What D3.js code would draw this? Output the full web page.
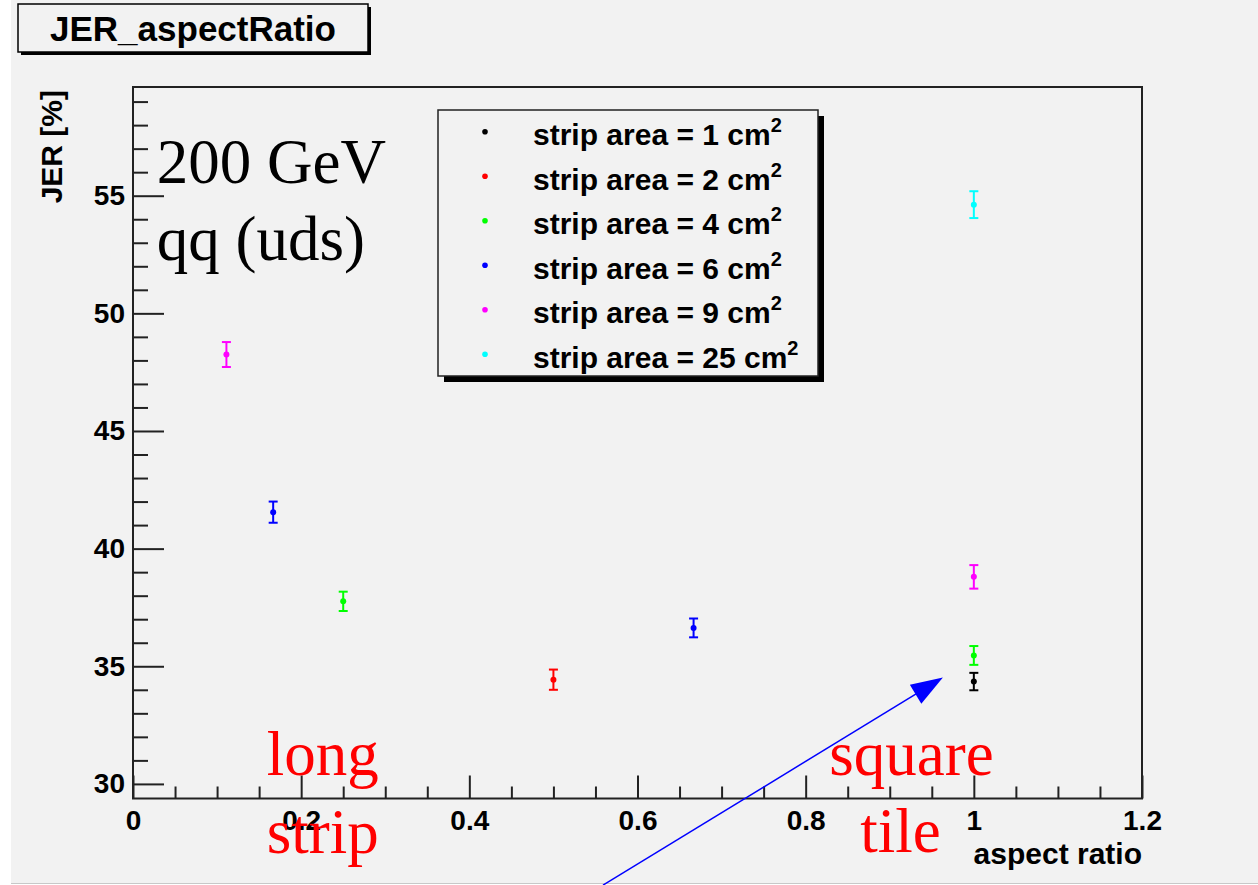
<!DOCTYPE html>
<html>
<head>
<meta charset="utf-8">
<script src="https://cdn.jsdelivr.net/npm/d3@7"></script>
<style>
  body { margin: 0; background: #fff; }
  svg text { font-family: "Liberation Sans", Arial, sans-serif; font-weight: bold; }
  .note { font-family: "Liberation Serif", "Times New Roman", serif; font-weight: normal; }
</style>
</head>
<body>
<svg id="chart" width="1258" height="885"></svg>
<script>
// strip area (cm^2) for each graph, and its points
var areas = [1, 2, 4, 6, 9, 25];
var aspect = [[1], [0.5], [0.25, 1], [0.1667, 0.6667], [0.1111, 1], [1]];
var jer = [[34.35], [34.43], [37.76, 35.46], [41.55, 36.63], [48.25, 38.8], [54.62]];
var jerErr = [[0.37], [0.43], [0.41, 0.40], [0.45, 0.40], [0.53, 0.50], [0.57]];
var colors = ["#000000", "#ff0000", "#00ff00", "#0000ff", "#ff00ff", "#00ffff"];

var xMajor = [0, 0.2, 0.4, 0.6, 0.8, 1, 1.2];
var yMajor = [30, 35, 40, 45, 50, 55];

// free text drawn on the pad (user coordinates)
var notes = [
    {text: "200 GeV",  x: 0.0282, y: 55.54, color: "#000"},
    {text: "qq (uds)", x: 0.0282, y: 52.28, color: "#000"},
    {text: "long",     x: 0.159,  y: 30.38, color: "#ff0000"},
    {text: "strip",    x: 0.159,  y: 27.07, color: "#ff0000"},
    {text: "square",   x: 0.828,  y: 30.38, color: "#ff0000"},
    {text: "tile",     x: 0.865,  y: 27.11, color: "#ff0000"}
];
var arrow = {x1: 0.559, y1: 25.70, x2: 0.9632, y2: 34.52};

var svg = d3.select("#chart");
var W = +svg.attr("width"), H = +svg.attr("height");
var margin = {top: 87, right: 116, bottom: 86.5, left: 133};
var width = W - margin.left - margin.right,
    height = H - margin.top - margin.bottom;

// canvas
svg.append("rect").attr("x", 11).attr("y", 0).attr("width", W - 11).attr("height", 883)
    .attr("fill", "#f2f2f2");
svg.append("line").attr("x1", 11).attr("x2", W).attr("y1", 883.5).attr("y2", 883.5)
    .attr("stroke", "#c8c8c8");

// title box with shadow
svg.append("rect").attr("x", 21).attr("y", 7).attr("width", 350).attr("height", 48).attr("fill", "#000");
svg.append("rect").attr("x", 18).attr("y", 4).attr("width", 350).attr("height", 48)
    .attr("fill", "#f2f2f2").attr("stroke", "#000").attr("stroke-width", 1.5);
svg.append("text").attr("x", 193).attr("y", 41).attr("text-anchor", "middle")
    .style("font-size", "35px").text("JER_aspectRatio");

var g = svg.append("g").attr("transform", "translate(" + margin.left + "," + margin.top + ")");

var x = d3.scaleLinear().domain([0, 1.2]).range([0, width]);
var y = d3.scaleLinear().domain([29.38, 59.62]).range([height, 0]);

// minor ticks
var xMinor = d3.range(0, 1.2001, 0.05).filter(function(v){ return Math.abs(v*5 - Math.round(v*5)) > 1e-6; });
var yMinor = d3.range(30, 59.6, 1).filter(function(v){ return v % 5 != 0; });

g.append("g").attr("class", "axis")
    .attr("transform", "translate(0," + height + ")")
    .call(d3.axisBottom(x).tickValues(xMinor).tickSize(-12).tickSizeOuter(0).tickFormat(""));
g.append("g").attr("class", "axis")
    .attr("transform", "translate(0," + height + ")")
    .call(d3.axisBottom(x).tickValues(xMajor).tickSize(-23).tickSizeOuter(0).tickPadding(12)
        .tickFormat(d3.format("~g")));
g.append("g").attr("class", "axis")
    .call(d3.axisLeft(y).tickValues(yMinor).tickSize(-15).tickSizeOuter(0).tickFormat(""));
g.append("g").attr("class", "axis")
    .call(d3.axisLeft(y).tickValues(yMajor).tickSize(-31).tickSizeOuter(0).tickPadding(8));

g.selectAll(".axis path").remove();
g.selectAll(".axis line").attr("stroke", "#222").attr("stroke-width", 2);
g.selectAll(".axis text").attr("fill", "#000").style("font-size", "28px")
    .style("font-family", "Liberation Sans, Arial, sans-serif").style("font-weight", "bold");

// frame
g.append("rect").attr("width", width).attr("height", height)
    .attr("fill", "none").attr("stroke", "#222").attr("stroke-width", 2);

// axis titles
g.append("text").attr("x", width).attr("y", height + 65.5).attr("text-anchor", "end")
    .style("font-size", "30px").text("aspect ratio");
g.append("text").attr("transform", "translate(" + (62 - margin.left) + "," + (90 - margin.top) + ") rotate(-90)")
    .attr("text-anchor", "end").style("font-size", "30px").text("JER [%]");

// graphs
areas.forEach(function(a, i){
    var pts = aspect[i].map(function(v, j){ return {x: v, y: jer[i][j], e: jerErr[i][j]}; });
    var s = g.append("g").attr("stroke", colors[i]).attr("fill", colors[i]).attr("stroke-width", 2);
    pts.forEach(function(p){
        var px = x(p.x);
        s.append("line").attr("x1", px).attr("x2", px).attr("y1", y(p.y - p.e)).attr("y2", y(p.y + p.e));
        s.append("line").attr("x1", px - 4.5).attr("x2", px + 4.5).attr("y1", y(p.y - p.e)).attr("y2", y(p.y - p.e));
        s.append("line").attr("x1", px - 4.5).attr("x2", px + 4.5).attr("y1", y(p.y + p.e)).attr("y2", y(p.y + p.e));
        s.append("circle").attr("cx", px).attr("cy", y(p.y)).attr("r", 3).attr("stroke", "none");
    });
});

// legend
var lx = 438, ly = 110, lw = 380, lh = 266;
svg.append("rect").attr("x", lx + 6).attr("y", ly + 6).attr("width", lw).attr("height", lh).attr("fill", "#000");
svg.append("rect").attr("x", lx).attr("y", ly).attr("width", lw).attr("height", lh)
    .attr("fill", "#f2f2f2").attr("stroke", "#222").attr("stroke-width", 1.5);
areas.forEach(function(a, i){
    var ry = 131.7 + i * 44.5;
    svg.append("circle").attr("cx", 485).attr("cy", ry).attr("r", 2.8).attr("fill", colors[i]);
    var t = svg.append("text").attr("x", 533).attr("y", ry + 13.5).style("font-size", "30px");
    t.append("tspan").text("strip area = " + a + " cm");
    t.append("tspan").attr("dy", -13).style("font-size", "20px").text("2");
});

// annotations
notes.forEach(function(n){
    g.append("text").attr("class", "note").attr("x", x(n.x)).attr("y", y(n.y))
        .attr("fill", n.color).style("font-size", "63px").text(n.text);
});

// arrow
var ax1 = x(arrow.x1), ay1 = y(arrow.y1), ax2 = x(arrow.x2), ay2 = y(arrow.y2);
var ang = Math.atan2(ay2 - ay1, ax2 - ax1);
var hl = 32, hw = 11;
g.append("line").attr("x1", ax1).attr("y1", ay1).attr("x2", ax2 - hl * Math.cos(ang) * 0.8).attr("y2", ay2 - hl * Math.sin(ang) * 0.8)
    .attr("stroke", "#0000ff").attr("stroke-width", 1.5);
var bx = ax2 - hl * Math.cos(ang), by = ay2 - hl * Math.sin(ang);
g.append("path")
    .attr("d", "M" + ax2 + "," + ay2 +
        "L" + (bx + hw * Math.sin(ang)) + "," + (by - hw * Math.cos(ang)) +
        "L" + (bx - hw * Math.sin(ang)) + "," + (by + hw * Math.cos(ang)) + "Z")
    .attr("fill", "#0000ff");
</script>
</body>
</html>
